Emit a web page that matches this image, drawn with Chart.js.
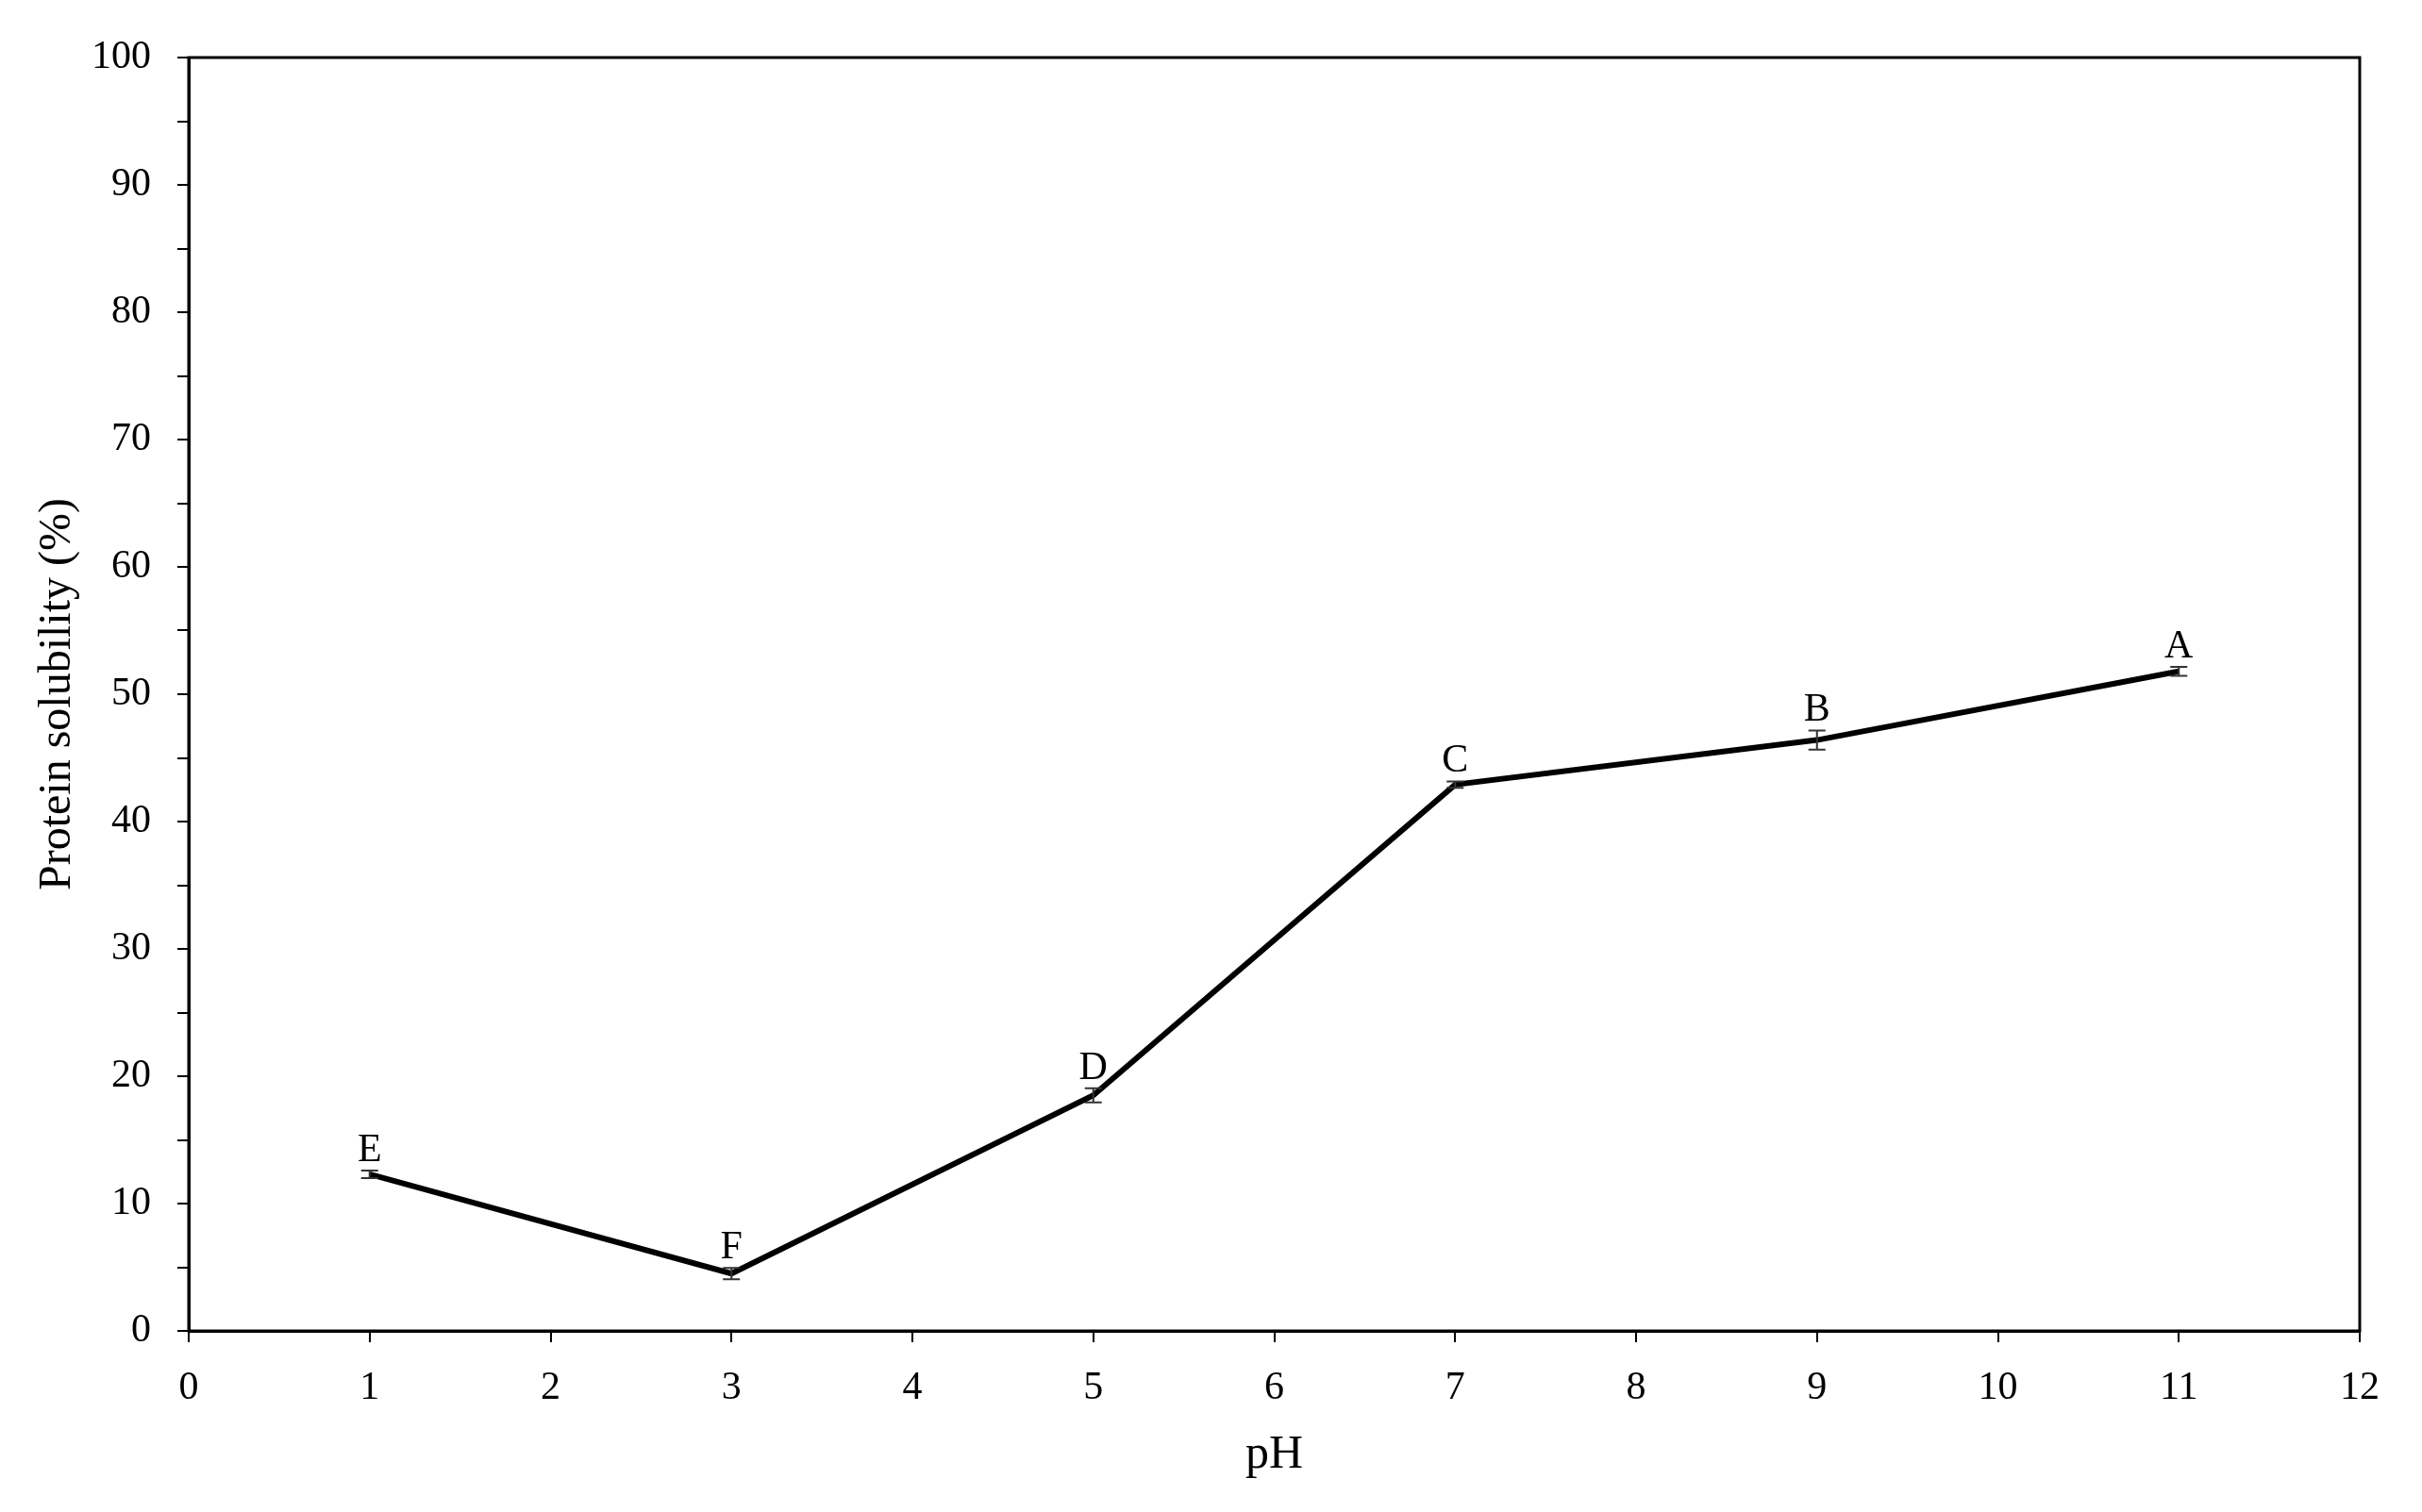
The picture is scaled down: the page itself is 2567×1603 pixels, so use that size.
<!DOCTYPE html>
<html>
<head>
<meta charset="utf-8">
<title>Protein solubility vs pH</title>
<script src="https://cdn.jsdelivr.net/npm/chart.js@4.4.1/dist/chart.umd.min.js"></script>
<style>
	html, body { margin: 0; padding: 0; background: #fff; }
	#wrap { width: 2567px; height: 1603px; position: relative; }
</style>
</head>
<body>
<div id="wrap"><canvas id="solubility"></canvas></div>
<script>
// values
var phValues = [1, 3, 5, 7, 9, 11];
var solubility = [12.3, 4.5, 18.5, 42.9, 46.4, 51.8];
var solubilityErr = [0.3, 0.45, 0.55, 0.25, 0.75, 0.35];
var groupLetters = ['E', 'F', 'D', 'C', 'B', 'A'];

var serif = "'Liberation Serif', 'DejaVu Serif', serif";

// frame round the plot area (top and right sides too)
var frameBox = {
	id: 'frameBox',
	afterDraw: function ( chart ) {
		var a = chart.chartArea, ctx = chart.ctx;
		ctx.save();
		ctx.strokeStyle = '#000';
		ctx.lineWidth = 3;
		ctx.strokeRect( a.left, a.top, a.right - a.left, a.bottom - a.top );
		ctx.restore();
	}
};

// error bars + significance letters
var errorLetters = {
	id: 'errorLetters',
	afterDatasetsDraw: function ( chart ) {
		var ctx = chart.ctx, xs = chart.scales.x, ys = chart.scales.y;
		ctx.save();
		for ( var i = 0; i < phValues.length; i++ ) {
			var px = xs.getPixelForValue( phValues[i] );
			var top = ys.getPixelForValue( solubility[i] + solubilityErr[i] );
			var bot = ys.getPixelForValue( solubility[i] - solubilityErr[i] );
			ctx.strokeStyle = '#333';
			ctx.lineWidth = 2;
			ctx.beginPath();
			ctx.moveTo( px, top ); ctx.lineTo( px, bot );
			ctx.moveTo( px - 9, top ); ctx.lineTo( px + 9, top );
			ctx.moveTo( px - 9, bot ); ctx.lineTo( px + 9, bot );
			ctx.stroke();

			ctx.fillStyle = '#000';
			ctx.font = '42px ' + serif;
			ctx.textAlign = 'center';
			ctx.textBaseline = 'alphabetic';
			ctx.fillText( groupLetters[i], px, top - 10 );
		}
		ctx.restore();
	}
};

var points = phValues.map( function ( v, i ) {
	return { x: v, y: solubility[i] };
} );

var ctx = document.getElementById( 'solubility' ).getContext( '2d' );
var chart = new Chart( ctx, {
	type: 'line',
	data: {
		datasets: [
			{
				data: points,
				borderColor: '#000',
				borderWidth: 6,
				pointRadius: 0,
				tension: 0,
				fill: false
			}
		]
	},
	options: {
		responsive: true,
		maintainAspectRatio: false,
		devicePixelRatio: 1,
		animation: false,
		layout: { padding: { top: 61, right: 66, left: 0, bottom: 0 } },
		plugins: {
			legend: { display: false },
			tooltip: { enabled: false }
		},
		scales: {
			x: {
				type: 'linear',
				min: 0,
				max: 12,
				ticks: {
					stepSize: 1,
					color: '#000',
					padding: 24,
					font: { family: serif, size: 42 }
				},
				grid: {
					drawOnChartArea: false,
					drawTicks: true,
					tickLength: 12,
					color: '#000',
					lineWidth: 2
				},
				border: { display: true, color: '#000', width: 3 },
				title: {
					display: true,
					text: 'pH',
					color: '#000',
					font: { family: serif, size: 50 },
					padding: { top: 0, bottom: 30 }
				},
				afterFit: function ( scale ) { scale.height = 192; }
			},
			y: {
				min: 0,
				max: 100,
				ticks: {
					stepSize: 5,
					color: '#000',
					padding: 28,
					font: { family: serif, size: 42 },
					callback: function ( v ) { return v % 10 === 0 ? v : ''; }
				},
				grid: {
					drawOnChartArea: false,
					drawTicks: true,
					tickLength: 12,
					color: '#000',
					lineWidth: 2
				},
				border: { display: true, color: '#000', width: 3 },
				title: {
					display: true,
					text: 'Protein solubility (%)',
					color: '#000',
					font: { family: serif, size: 48 },
					padding: { top: 33, bottom: 0 }
				},
				afterFit: function ( scale ) { scale.width = 200; }
			}
		}
	},
	plugins: [frameBox, errorLetters]
} );
</script>
</body>
</html>
